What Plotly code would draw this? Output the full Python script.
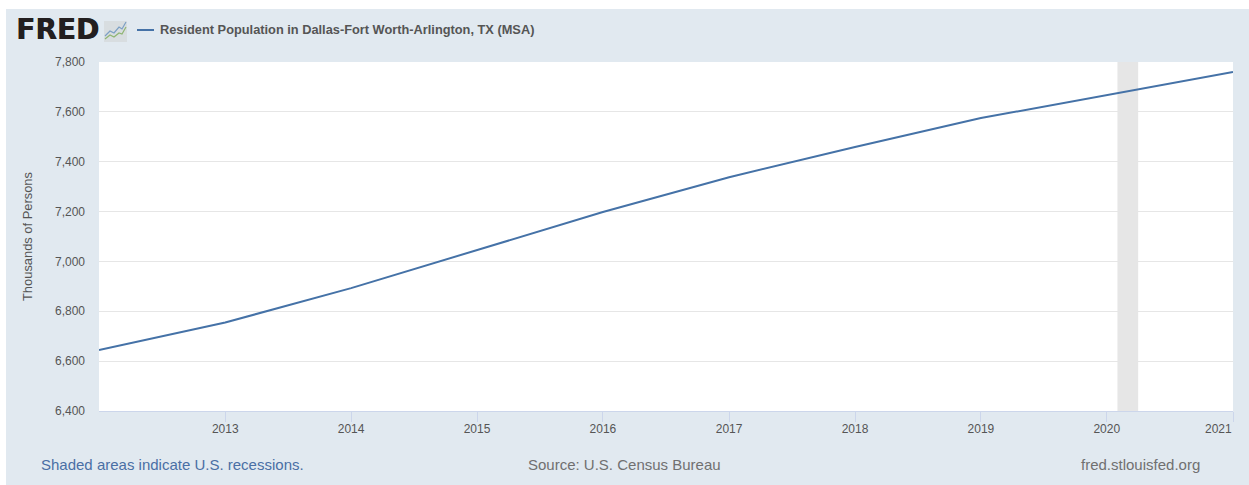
import plotly.graph_objects as go

# Annual resident population, thousands of persons
dates = ["2012-01-01", "2013-01-01", "2014-01-01", "2015-01-01", "2016-01-01",
         "2017-01-01", "2018-01-01", "2019-01-01", "2020-01-01", "2021-01-01"]
population = [6645, 6755, 6893, 7046, 7198, 7338, 7459, 7575, 7667, 7760]
recession_start = "2020-02-01"
recession_end = "2020-04-01"
y_ticks = [6400, 6600, 6800, 7000, 7200, 7400, 7600, 7800]
x_ticks = ["2013-01-01", "2014-01-01", "2015-01-01", "2016-01-01",
           "2017-01-01", "2018-01-01", "2019-01-01", "2020-01-01", "2021-01-01"]
# the closing year is placed separately so it stays inside the plot edge
x_labels = ["2013", "2014", "2015", "2016", "2017", "2018", "2019", "2020", ""]
last_year_label = "2021"

series_name = "Resident Population in Dallas-Fort Worth-Arlington, TX (MSA)"
FONT = "Liberation Sans, Arial, sans-serif"
W, H = 1249, 485
L, R, T, B = 99, 16, 62, 74
PANEL = "#e1e9f0"
LINE = "#4572a7"


def px(x):
    return (x - L) / (W - L - R)


def py(y):
    return 1 - (y - T) / (H - T - B)


def page_shape(kind, x0, y0, x1, y1, **kw):
    return dict(type=kind, xref="paper", yref="paper", x0=px(x0), x1=px(x1),
                y0=py(y0), y1=py(y1), **kw)


def sketch_path(points):
    return "M" + " L".join(f"{px(a):.5f},{py(b):.5f}" for a, b in points)


def page_text(x, y, text, size, color, anchor="left", bold=False, family=FONT, shadow=None, **kw):
    font = dict(family=family, size=size, color=color)
    if shadow:
        font["shadow"] = shadow
    return dict(xref="paper", yref="paper", x=px(x), y=py(y), text=f"<b>{text}</b>" if bold else text,
                showarrow=False, xanchor=anchor, yanchor="middle", borderpad=0, borderwidth=0,
                font=font, **kw)


fig = go.Figure(go.Scatter(x=dates, y=population, mode="lines", name=series_name,
                           line=dict(color=LINE, width=2), showlegend=False,
                           hoverinfo="x+y"))

shapes = [
    # header and footer panel behind the plot
    page_shape("rect", 6, 9, 1249, 485, fillcolor=PANEL, line_width=0, layer="below"),
    page_shape("rect", 99, 62, 1233, 411, fillcolor="white", line_width=0, layer="below"),
    # recession band
    dict(type="rect", xref="x", yref="paper", x0=recession_start, x1=recession_end, y0=0, y1=1,
         fillcolor="#e6e6e6", line_width=0, layer="below"),
    # legend key
    page_shape("line", 137, 30, 154, 30, line=dict(color=LINE, width=2)),
    # small chart badge beside the wordmark
    page_shape("rect", 104, 21, 127, 42, fillcolor="#d8dde0", line_width=0),
    dict(type="path", xref="paper", yref="paper", line=dict(color="#7b9fc4", width=1.2),
         path=sketch_path([(105, 36), (110, 31), (114, 33), (119, 27), (122, 29), (126, 22)])),
    dict(type="path", xref="paper", yref="paper", line=dict(color="#8fb573", width=1.2),
         path=sketch_path([(105, 39), (110, 35), (114, 37), (119, 33), (122, 34), (126, 27)])),
]

annotations = [
    page_text(16, 30, "FRED", 28, "#231f20", bold=True, family="DejaVu Sans",
              shadow="0.6px 0 0 #231f20"),
    page_text(160, 30, series_name, 12.8, "#555555", bold=True),
    page_text(41, 464, "Shaded areas indicate U.S. recessions.", 15, "#4a6fa5"),
    page_text(624, 464, "Source: U.S. Census Bureau", 15, "#707070", anchor="center"),
    page_text(1200, 464, "fred.stlouisfed.org", 15, "#707070", anchor="right"),
    page_text(27, 237, "Thousands of Persons", 12.9, "#555555", anchor="center", textangle=-90),
    page_text(1232, 428.5, last_year_label, 12, "#555555", anchor="right"),
]

fig.update_layout(
    width=W, height=H, autosize=False,
    margin=dict(l=L, r=R, t=T, b=B, pad=0),
    paper_bgcolor="white", plot_bgcolor="rgba(0,0,0,0)",
    shapes=shapes, annotations=annotations,
    font=dict(family=FONT, color="#555555", size=12),
    xaxis=dict(type="date", range=[dates[0], dates[-1]], tickmode="array",
               tickvals=x_ticks, ticktext=x_labels, showgrid=False, zeroline=False,
               ticks="outside", ticklen=10, tickwidth=1, tickcolor="#ccd6eb",
               showline=True, linecolor="#ccd6eb", linewidth=1,
               ticklabelstandoff=-3,
               tickfont=dict(family=FONT, size=12, color="#555555")),
    yaxis=dict(range=[y_ticks[0], y_ticks[-1]], tickmode="array", tickvals=y_ticks,
               tickformat=",d", showgrid=True, gridcolor="#e6e6e6", gridwidth=1,
               zeroline=False, showline=False, ticks="",
               ticklabelstandoff=13,
               tickfont=dict(family=FONT, size=12, color="#555555")),
)

fig.write_html("out.html")
